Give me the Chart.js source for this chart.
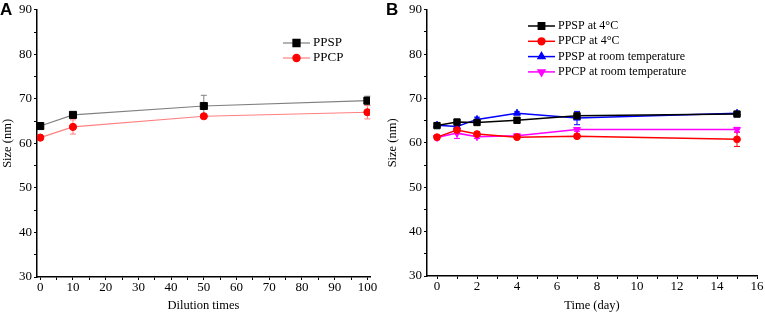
<!DOCTYPE html>
<html>
<head>
<meta charset="utf-8">
<script src="https://cdn.jsdelivr.net/npm/chart.js@4"></script>
<style>
body { margin: 0; background: #fff; }
#wrap { position: relative; width: 765px; height: 313px; }
.panel { position: absolute; top: 0; width: 380px; height: 313px; }
.tag { position: absolute; top: 0; font: bold 17px "Liberation Sans", Arial, sans-serif; color: #000; }
</style>
</head>
<body>
<div id="wrap">
  <div class="panel" style="left:0"><canvas id="chartA" width="380" height="313"></canvas></div>
  <div class="panel" style="left:385px"><canvas id="chartB" width="380" height="313"></canvas></div>
  <div class="tag" style="left:0">A</div>
  <div class="tag" style="left:386px">B</div>
</div>
<script>
// panel A - dilution
const dilution = [0, 10, 50, 100];
const ppspDil = [63.9, 66.4, 68.4, 69.6];
const ppspDilErr = [0.6, 0.3, 2.4, 1.0];
const ppcpDil = [61.3, 63.7, 66.1, 67.0];
const ppcpDilErr = [0.5, 1.6, 0.3, 1.5];

// panel B - storage time
const days = [0, 1, 2, 4, 7, 15];
const ppsp4 = [63.9, 64.7, 64.6, 65.1, 66.1, 66.5];
const ppsp4Err = [0.4, 0.4, 0.3, 0.3, 0.5, 0.4];
const ppcp4 = [61.3, 62.9, 62.0, 61.3, 61.5, 60.8];
const ppcp4Err = [0.4, 0.8, 0.5, 0.3, 0.4, 1.6];
const ppspRT = [64.0, 63.7, 65.3, 66.7, 65.6, 66.7];
const ppspRTErr = [0.6, 0.4, 0.5, 0.3, 1.5, 0.4];
const ppcpRT = [61.2, 62.2, 61.4, 61.6, 63.0, 63.0];
const ppcpRTErr = [0.5, 1.2, 0.4, 0.3, 0.4, 0.5];

const yTicks = [30, 40, 50, 60, 70, 80, 90];
const dilutionTicks = [0, 10, 20, 30, 40, 50, 60, 70, 80, 90, 100];
const dayTicks = [0, 2, 4, 6, 8, 10, 12, 14, 16];

const serif = "'Liberation Serif', 'Times New Roman', serif";

const pts = (xs, ys) => xs.map((x, i) => ({ x: x, y: ys[i] }));

// major ticks plus a minor tick halfway between each pair
function withMinor(major) {
    const out = [];
    major.forEach((v, i) => {
        out.push({ value: v, major: true });
        if (i < major.length - 1) out.push({ value: (v + major[i + 1]) / 2 });
    });
    return out;
}

const errorBars = {
    id: 'errorBars',
    beforeDatasetsDraw(chart) {
        const ctx = chart.ctx;
        const xs = chart.scales.x, ys = chart.scales.y;
        chart.data.datasets.forEach(ds => {
            if (!ds.errors) return;
            ctx.save();
            ctx.strokeStyle = ds.errorColor || ds.borderColor;
            ctx.lineWidth = 1;
            ds.data.forEach((p, j) => {
                const e = ds.errors[j];
                const x = xs.getPixelForValue(p.x);
                const top = ys.getPixelForValue(p.y + e);
                const bot = ys.getPixelForValue(p.y - e);
                ctx.beginPath();
                ctx.moveTo(x, top); ctx.lineTo(x, bot);
                ctx.moveTo(x - 3, top); ctx.lineTo(x + 3, top);
                ctx.moveTo(x - 3, bot); ctx.lineTo(x + 3, bot);
                ctx.stroke();
            });
            ctx.restore();
        });
    }
};

const insideLegend = {
    id: 'insideLegend',
    afterDraw(chart, args, opts) {
        const ctx = chart.ctx;
        ctx.save();
        ctx.font = opts.size + 'px ' + serif;
        ctx.textBaseline = 'middle';
        chart.data.datasets.forEach((ds, i) => {
            const y = opts.y + i * opts.gap;
            ctx.strokeStyle = ds.borderColor;
            ctx.lineWidth = ds.borderWidth;
            ctx.beginPath();
            ctx.moveTo(opts.x, y);
            ctx.lineTo(opts.x + opts.len, y);
            ctx.stroke();
            ctx.fillStyle = ds.pointBackgroundColor;
            ctx.strokeStyle = ds.pointBorderColor;
            Chart.helpers.drawPoint(ctx, {
                pointStyle: ds.pointStyle, radius: ds.pointRadius,
                rotation: ds.pointRotation || 0, borderWidth: 1
            }, opts.x + opts.len / 2, y);
            ctx.fillStyle = '#000';
            ctx.fillText(ds.label, opts.x + opts.len + 3, y);
        });
        ctx.restore();
    }
};

function series(label, xs, ys, errs, line, mark, style, radius, rot, width) {
    return {
        label: label,
        data: pts(xs, ys),
        errors: errs,
        errorColor: line,
        borderColor: line,
        borderWidth: width,
        pointStyle: style,
        pointRadius: radius,
        pointRotation: rot,
        pointBackgroundColor: mark,
        pointBorderColor: mark,
        pointBorderWidth: 1,
        tension: 0,
    };
}

function axes(xMin, xMax, xMajor, yWidth, xHeight, xTitle) {
    const grid = { drawOnChartArea: false, tickLength: 3, color: '#000', tickWidth: 1 };
    const border = { color: '#000', width: 1.5 };
    return {
        x: {
            type: 'linear', min: xMin, max: xMax,
            grid: grid, border: border,
            afterBuildTicks: s => { s.ticks = withMinor(xMajor); },
            afterFit: s => { s.height = xHeight; },
            ticks: {
                autoSkip: false, maxRotation: 0, padding: 0, color: '#000',
                font: { family: serif, size: 13 },
                callback: (v) => xMajor.includes(v) ? String(v) : ''
            },
            title: { display: true, text: xTitle, color: '#000', padding: 0, font: { family: serif, size: 12.5 } }
        },
        y: {
            min: 30, max: 90,
            grid: grid, border: border,
            afterBuildTicks: s => { s.ticks = withMinor(yTicks); },
            afterFit: s => { s.width = yWidth; },
            ticks: {
                autoSkip: false, padding: 2, color: '#000',
                font: { family: serif, size: 13 },
                callback: (v) => yTicks.includes(v) ? String(v) : ''
            },
            title: { display: true, text: 'Size (nm)', color: '#000', padding: 0, font: { family: serif, size: 12.5 } }
        }
    };
}

new Chart(document.getElementById('chartA'), {
    type: 'line',
    data: {
        datasets: [
            series('PPSP', dilution, ppspDil, ppspDilErr, '#808080', '#000000', 'rect', 5, 0, 1.2),
            series('PPCP', dilution, ppcpDil, ppcpDilErr, '#ff8080', '#ff0000', 'circle', 3.6, 0, 1.2),
        ]
    },
    options: {
        responsive: false,
        animation: false,
        layout: { padding: { top: 7, right: 10, left: 0, bottom: 0 } },
        scales: axes(-1, 100.8, dilutionTicks, 37, 36, 'Dilution times'),
        plugins: {
            legend: { display: false },
            tooltip: { enabled: false },
            insideLegend: { x: 283, y: 43, gap: 15, len: 27, size: 13 }
        }
    },
    plugins: [errorBars, insideLegend]
});

new Chart(document.getElementById('chartB'), {
    type: 'line',
    data: {
        datasets: [
            series('PPSP at 4°C', days, ppsp4, ppsp4Err, '#000000', '#000000', 'rect', 4.5, 0, 1.5),
            series('PPCP at 4°C', days, ppcp4, ppcp4Err, '#ff0000', '#ff0000', 'circle', 3.4, 0, 1.5),
            series('PPSP at room temperature', days, ppspRT, ppspRTErr, '#0000ff', '#0000ff', 'triangle', 4, 0, 1.5),
            series('PPCP at room temperature', days, ppcpRT, ppcpRTErr, '#ff00ff', '#ff00ff', 'triangle', 4, 180, 1.5),
        ]
    },
    options: {
        responsive: false,
        animation: false,
        layout: { padding: { top: 7, right: 8, left: 0, bottom: 0 } },
        scales: axes(-0.5, 16, dayTicks, 42, 37, 'Time (day)'),
        plugins: {
            legend: { display: false },
            tooltip: { enabled: false },
            insideLegend: { x: 143, y: 26, gap: 15.3, len: 27, size: 12 }
        }
    },
    plugins: [errorBars, insideLegend]
});
</script>
</body>
</html>
